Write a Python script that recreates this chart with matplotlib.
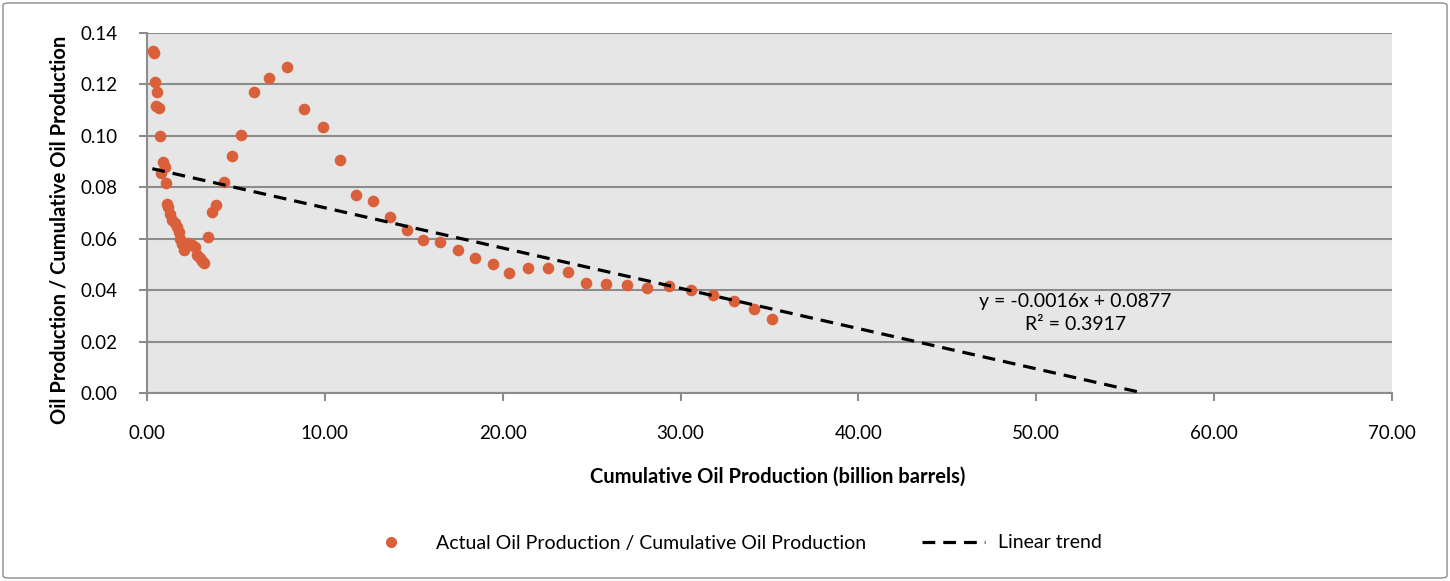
import matplotlib
matplotlib.use("Agg")
import matplotlib.pyplot as plt
import matplotlib.ticker as mtick
from matplotlib.patches import FancyBboxPatch
from matplotlib.lines import Line2D
import numpy as np

plt.rcParams['font.family'] = ['Lato', 'DejaVu Sans']

# cumulative oil production (billion barrels)
cum_prod = [0.34, 0.41, 0.45, 0.56, 0.49, 0.67, 0.75, 0.90, 1.01, 0.79, 1.08,
            1.12, 1.20, 1.31, 1.42, 1.57, 1.69, 1.80, 1.87, 1.98, 2.10, 2.32,
            2.55, 2.70, 2.81, 2.96, 3.07, 3.22, 3.41, 3.65, 3.86, 4.31, 4.76,
            5.28, 5.99, 6.86, 7.85, 8.84, 9.87, 10.85, 11.77, 12.72, 13.64,
            14.61, 15.51, 16.49, 17.46, 18.44, 19.43, 20.38, 21.43, 22.54,
            23.67, 24.71, 25.82, 26.96, 28.10, 29.36, 30.60, 31.81, 33.00,
            34.12, 35.13]
# annual production / cumulative production
ratio = [0.1331, 0.1321, 0.1208, 0.1172, 0.1116, 0.1110, 0.1000, 0.0900,
         0.0878, 0.0857, 0.0816, 0.0735, 0.0722, 0.0696, 0.0673, 0.0660,
         0.0647, 0.0627, 0.0598, 0.0580, 0.0556, 0.0582, 0.0576, 0.0567,
         0.0537, 0.0524, 0.0515, 0.0507, 0.0608, 0.0705, 0.0731, 0.0821,
         0.0921, 0.1005, 0.1171, 0.1224, 0.1269, 0.1105, 0.1033, 0.0905,
         0.0771, 0.0747, 0.0685, 0.0633, 0.0595, 0.0589, 0.0556, 0.0526,
         0.0502, 0.0466, 0.0485, 0.0486, 0.0472, 0.0427, 0.0424, 0.0420,
         0.0410, 0.0417, 0.0401, 0.0380, 0.0357, 0.0326, 0.0287]

# linear trend (as drawn, forecast forward to zero)
trend_slope = -0.001566
trend_intercept = 0.0877
trend_start = 0.3
equation_text = "y = -0.0016x + 0.0877\nR² = 0.3917"

W, H = 1450, 581
fig = plt.figure(figsize=(W / 100, H / 100), dpi=100)
ax = fig.add_axes([147 / W, 1 - 393 / H, (1392 - 147) / W, (393 - 33) / H])

# outer chart border
fig.patches.append(FancyBboxPatch((3 / W, 3 / H), 1 - 6 / W, 1 - 6 / H,
                                  boxstyle="round,pad=0,rounding_size=0.004",
                                  transform=fig.transFigure, fill=False,
                                  edgecolor='#8c8c8c', linewidth=1.0))

ax.set_facecolor('#e6e6e6')
ax.set_xlim(0, 70)
ax.set_ylim(0, 0.14)
ax.set_xticks(np.arange(0, 71, 10))
ax.set_yticks(np.arange(0, 0.141, 0.02))
ax.xaxis.set_major_formatter(mtick.FormatStrFormatter('%.2f'))
ax.yaxis.set_major_formatter(mtick.FormatStrFormatter('%.2f'))
ax.grid(axis='y', color='#8c8c8c', linewidth=1.5)
ax.set_axisbelow(True)
for s in ['top', 'right']:
    ax.spines[s].set_visible(False)
for s in ['left', 'bottom']:
    ax.spines[s].set_color('#8c8c8c')
    ax.spines[s].set_linewidth(1.5)
ax.tick_params(axis='both', colors='#8c8c8c', labelcolor='black', length=6,
               width=1.5, labelsize=13.5)
ax.tick_params(axis='x', pad=17)
ax.tick_params(axis='y', pad=15)

ax.scatter(cum_prod, ratio, s=70, color='#d9603b', zorder=3, linewidths=0)

trend_end = -trend_intercept / trend_slope
tx = np.array([trend_start, trend_end])
ax.plot(tx, trend_intercept + trend_slope * tx, color='black', linewidth=2.3,
        dashes=(4, 2.5), zorder=4)

ax.text(52.2, 0.031, equation_text, ha='center', va='center',
        multialignment='center', fontsize=14, linespacing=1.45)

fig.text(778 / W, 1 - 477 / H, "Cumulative Oil Production (billion barrels)",
         ha='center', va='center', fontsize=14.5, fontweight='bold')
fig.text(60 / W, 1 - 230 / H, "Oil Production / Cumulative Oil Production",
         ha='center', va='center', rotation=90, fontsize=14.5, fontweight='bold')

handles = [Line2D([], [], linestyle='', marker='o', markersize=8,
                  color='#d9603b', markeredgewidth=0),
           Line2D([], [], color='black', linewidth=2.3, dashes=(4, 2.5))]
fig.legend(handles, ["Actual Oil Production / Cumulative Oil Production",
                     "Linear trend"],
           loc='center', bbox_to_anchor=(731 / W, 1 - 543 / H), ncol=2,
           frameon=False, fontsize=14, handlelength=3.2, columnspacing=2.9,
           handletextpad=0.7)

fig.savefig("out.png", dpi=100)
